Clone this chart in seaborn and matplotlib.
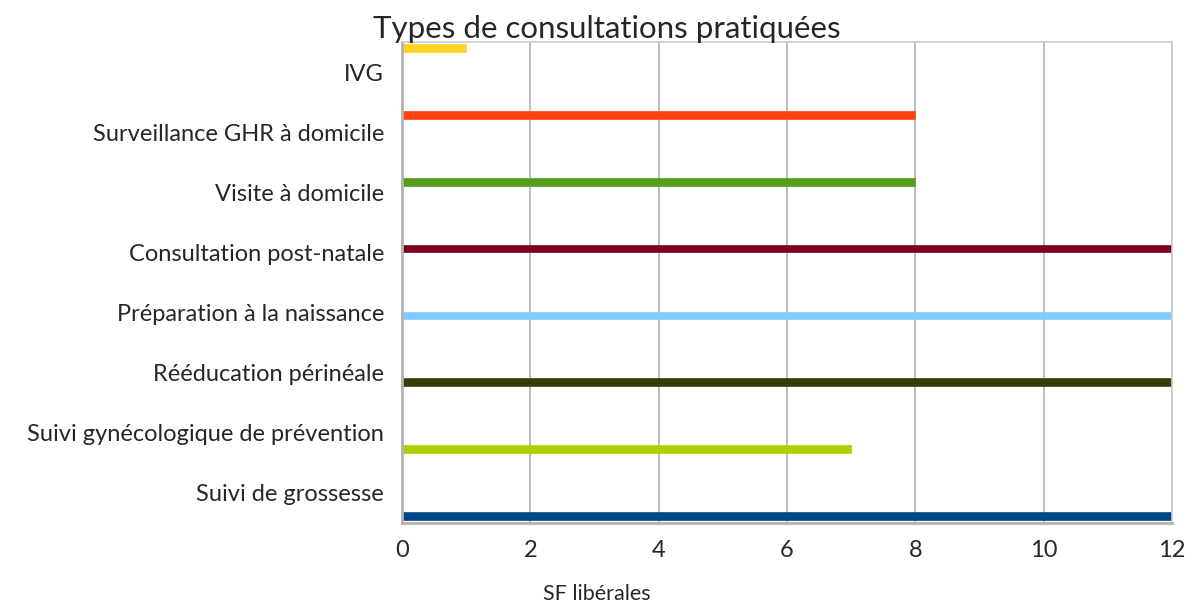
import pandas as pd
import matplotlib.pyplot as plt
import seaborn as sns

# --- data ---
categories = [
    "IVG",
    "Surveillance GHR à domicile",
    "Visite à domicile",
    "Consultation post-natale",
    "Préparation à la naissance",
    "Rééducation périnéale",
    "Suivi gynécologique de prévention",
    "Suivi de grossesse",
]
values = [1, 8, 8, 12, 12, 12, 7, 12]
colors = ["#ffd320", "#ff420e", "#579d1c", "#7e0021",
          "#83caff", "#314004", "#aecf00", "#004586"]
x_ticks = [0, 2, 4, 6, 8, 10, 12]

df = pd.DataFrame({"type": categories, "serie": categories, "n": values})

sns.set_style("white")
plt.rcParams['font.family'] = ['Lato', 'DejaVu Sans']

fig = plt.figure(figsize=(11.87, 6.07), dpi=100)
ax = fig.add_axes([0.3387, 0.1384, 0.6487, 0.7924])

sns.barplot(data=df, x="n", y="type", hue="serie", order=categories,
            hue_order=categories, palette=colors, dodge=True, width=0.9,
            orient="h", legend=False, ax=ax, saturation=1)
# thicken the thin bars a little, same colour edge
for p in ax.patches:
    p.set_edgecolor(p.get_facecolor())
    p.set_linewidth(1.2)

ax.set_xlim(0, 12)
ax.set_xticks(x_ticks)
ax.set_xticklabels([str(t) for t in x_ticks], fontsize=17)
ax.tick_params(axis="y", labelsize=17, length=0, pad=13)
ax.tick_params(axis="x", length=0, pad=12)
ax.xaxis.grid(True, color="#b3b3b3", linewidth=1.2)
ax.set_axisbelow(True)
ax.set_xlabel("")
ax.set_ylabel("")
for side in ["left", "bottom"]:
    ax.spines[side].set_color("#b3b3b3")
    ax.spines[side].set_linewidth(2)
for side in ["top", "right"]:
    ax.spines[side].set_color("#cccccc")
    ax.spines[side].set_linewidth(1.2)

fig.text(0.511, 0.953, "Types de consultations pratiquées", ha="center",
         va="center", fontsize=22.5)
fig.text(0.503, 0.005, "SF libérales", ha="center", va="bottom", fontsize=15.5)

fig.savefig("out.png", dpi=100)
